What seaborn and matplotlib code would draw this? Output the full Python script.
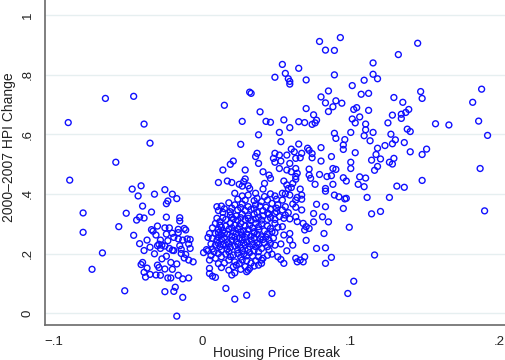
import pandas as pd
import seaborn as sns
import matplotlib.pyplot as plt

# (housing price break, 2000-2007 HPI change)

# negative-break cluster on the left
left_pts = [
    (-0.065, 0.720), (-0.046, 0.727), (-0.090, 0.639), (-0.039, 0.634),
    (-0.089, 0.446), (-0.058, 0.506), (-0.035, 0.570), (-0.080, 0.336),
    (-0.051, 0.335), (-0.047, 0.416), (-0.041, 0.427), (-0.043, 0.393),
    (-0.040, 0.359), (-0.042, 0.322), (-0.044, 0.312), (-0.039, 0.319),
    (-0.034, 0.339), (-0.032, 0.399), (-0.025, 0.414), (-0.024, 0.367),
    (-0.023, 0.376), (-0.020, 0.399), (-0.017, 0.384), (-0.024, 0.322),
    (-0.015, 0.320), (-0.015, 0.309),
    (-0.080, 0.271), (-0.067, 0.202), (-0.074, 0.147), (-0.052, 0.075),
    (-0.056, 0.290), (-0.046, 0.261), (-0.042, 0.233), (-0.037, 0.245),
    (-0.039, 0.210), (-0.041, 0.163), (-0.040, 0.170), (-0.037, 0.151),
    (-0.039, 0.137), (-0.038, 0.121), (-0.035, 0.130), (-0.035, 0.221),
    (-0.034, 0.280), (-0.033, 0.275), (-0.031, 0.262), (-0.030, 0.292),
    (-0.028, 0.245), (-0.029, 0.231), (-0.027, 0.228), (-0.030, 0.226),
    (-0.028, 0.217), (-0.032, 0.199), (-0.027, 0.182), (-0.030, 0.161),
    (-0.029, 0.153), (-0.031, 0.128), (-0.028, 0.127), (-0.025, 0.286),
    (-0.022, 0.286), (-0.024, 0.265), (-0.020, 0.268), (-0.023, 0.243),
    (-0.025, 0.225), (-0.022, 0.217), (-0.020, 0.211), (-0.019, 0.254),
    (-0.016, 0.281), (-0.016, 0.270), (-0.012, 0.284), (-0.011, 0.279),
    (-0.016, 0.249), (-0.013, 0.245), (-0.010, 0.249), (-0.008, 0.247),
    (-0.009, 0.232), (-0.008, 0.217), (-0.019, 0.210), (-0.015, 0.226),
    (-0.014, 0.214), (-0.014, 0.200), (-0.011, 0.197), (-0.012, 0.185),
    (-0.009, 0.178), (-0.006, 0.172), (-0.024, 0.191), (-0.025, 0.148),
    (-0.021, 0.170), (-0.017, 0.165), (-0.020, 0.147), (-0.023, 0.118),
    (-0.021, 0.118), (-0.016, 0.127), (-0.013, 0.115), (-0.009, 0.118),
    (-0.018, 0.087), (-0.025, 0.072), (-0.019, 0.073), (-0.013, 0.053),
    (-0.017, -0.010),
]

# dense core just right of zero
core_pts = [
    (0.022, 0.402), (0.027, 0.393), (0.031, 0.396), (0.036, 0.402), (0.037, 0.385),
    (0.042, 0.391), (0.046, 0.400), (0.049, 0.393), (0.054, 0.402), (0.056, 0.400),
    (0.059, 0.396), (0.064, 0.388), (0.067, 0.396), (0.024, 0.382), (0.029, 0.379),
    (0.035, 0.377), (0.040, 0.374), (0.044, 0.379), (0.050, 0.382), (0.054, 0.379),
    (0.063, 0.379), (0.067, 0.382),
    (0.010, 0.357), (0.013, 0.359), (0.018, 0.370), (0.011, 0.344), (0.022, 0.363),
    (0.027, 0.366), (0.031, 0.357), (0.036, 0.363), (0.039, 0.359), (0.047, 0.368),
    (0.051, 0.363), (0.056, 0.357), (0.061, 0.366), (0.063, 0.355), (0.067, 0.346),
    (0.024, 0.346), (0.029, 0.344), (0.033, 0.348), (0.041, 0.344), (0.046, 0.348),
    (0.054, 0.346), (0.058, 0.337),
    (0.019, 0.329), (0.020, 0.321), (0.023, 0.326), (0.027, 0.332), (0.031, 0.326),
    (0.035, 0.332), (0.038, 0.321), (0.041, 0.326), (0.045, 0.332), (0.049, 0.335),
    (0.056, 0.329), (0.040, 0.312), (0.044, 0.314), (0.049, 0.314), (0.055, 0.318),
    (0.063, 0.323), (0.064, 0.307), (0.016, 0.314), (0.012, 0.307), (0.024, 0.312),
    (0.029, 0.314), (0.033, 0.310),
    (0.009, 0.301), (0.012, 0.295), (0.016, 0.292), (0.019, 0.301), (0.022, 0.295),
    (0.026, 0.301), (0.029, 0.292), (0.032, 0.295), (0.036, 0.301), (0.040, 0.299),
    (0.044, 0.292), (0.049, 0.301), (0.011, 0.281), (0.014, 0.276), (0.018, 0.281),
    (0.021, 0.273), (0.024, 0.281), (0.028, 0.276), (0.031, 0.281), (0.035, 0.273),
    (0.038, 0.279), (0.042, 0.276), (0.047, 0.273), (0.051, 0.288), (0.009, 0.267),
    (0.013, 0.262), (0.017, 0.265), (0.020, 0.258), (0.023, 0.267), (0.027, 0.262),
    (0.030, 0.265), (0.033, 0.258), (0.037, 0.265), (0.040, 0.256), (0.005, 0.267),
    (0.059, 0.267), (0.068, 0.301), (0.069, 0.279),
    (0.007, 0.251), (0.010, 0.245), (0.013, 0.247), (0.017, 0.239), (0.020, 0.245),
    (0.023, 0.239), (0.027, 0.247), (0.030, 0.239), (0.033, 0.245), (0.037, 0.236),
    (0.041, 0.247), (0.045, 0.245), (0.046, 0.234), (0.059, 0.245), (0.061, 0.228),
    (0.009, 0.228), (0.012, 0.223), (0.016, 0.228), (0.019, 0.220), (0.022, 0.225),
    (0.026, 0.220), (0.029, 0.228), (0.032, 0.223), (0.036, 0.223), (0.040, 0.217),
    (0.044, 0.223), (0.049, 0.228),
    (0.001, 0.203), (0.004, 0.209), (0.008, 0.206), (0.011, 0.200), (0.016, 0.198),
    (0.018, 0.206), (0.021, 0.195), (0.024, 0.200), (0.028, 0.198), (0.032, 0.203),
    (0.034, 0.191), (0.038, 0.189), (0.041, 0.184), (0.047, 0.198), (0.051, 0.189),
    (0.057, 0.209), (0.063, 0.184), (0.066, 0.178), (0.069, 0.189), (0.005, 0.178),
    (0.009, 0.184), (0.013, 0.189), (0.018, 0.178), (0.022, 0.172), (0.027, 0.178),
    (0.030, 0.176), (0.036, 0.176), (0.040, 0.178), (0.053, 0.180), (0.055, 0.167),
    (0.064, 0.172), (0.068, 0.172),
    (0.005, 0.150), (0.005, 0.133), (0.007, 0.124), (0.009, 0.120), (0.013, 0.153),
    (0.018, 0.144), (0.021, 0.156), (0.023, 0.161), (0.026, 0.147), (0.029, 0.156),
    (0.030, 0.139), (0.032, 0.150), (0.035, 0.158), (0.038, 0.161), (0.040, 0.167),
    (0.020, 0.128), (0.031, 0.144), (0.022, 0.135),
]

# points hidden inside the solid part of the core
core_fill_pts = [
    (0.015, 0.350), (0.020, 0.352), (0.026, 0.354), (0.035, 0.350), (0.043, 0.355),
    (0.050, 0.352), (0.014, 0.338), (0.019, 0.340), (0.037, 0.338), (0.044, 0.336),
    (0.050, 0.340), (0.010, 0.318), (0.014, 0.320), (0.021, 0.316), (0.026, 0.320),
    (0.031, 0.318), (0.036, 0.316), (0.046, 0.320), (0.052, 0.324), (0.059, 0.316),
    (0.007, 0.286), (0.013, 0.288), (0.020, 0.286), (0.025, 0.290), (0.034, 0.286),
    (0.038, 0.290), (0.046, 0.284), (0.054, 0.290), (0.011, 0.270), (0.015, 0.268),
    (0.026, 0.272), (0.035, 0.268), (0.044, 0.266), (0.049, 0.270), (0.055, 0.262),
    (0.004, 0.254), (0.011, 0.256), (0.015, 0.253), (0.022, 0.255), (0.025, 0.252),
    (0.029, 0.254), (0.035, 0.252), (0.039, 0.249), (0.043, 0.255), (0.048, 0.252),
    (0.006, 0.232), (0.011, 0.234), (0.014, 0.231), (0.018, 0.233), (0.024, 0.231),
    (0.028, 0.235), (0.034, 0.232), (0.038, 0.230), (0.042, 0.236), (0.053, 0.232),
    (0.003, 0.213), (0.007, 0.215), (0.013, 0.212), (0.017, 0.214), (0.024, 0.212),
    (0.027, 0.210), (0.031, 0.214), (0.035, 0.210), (0.038, 0.206), (0.045, 0.212),
    (0.006, 0.193), (0.019, 0.190), (0.026, 0.188), (0.030, 0.192), (0.044, 0.194),
    (0.011, 0.166), (0.015, 0.168), (0.025, 0.166), (0.033, 0.168),
]

# sparse points below / right of the core
low_pts = [
    (0.016, 0.083), (0.022, 0.047), (0.030, 0.060), (0.047, 0.066), (0.098, 0.066),
    (0.102, 0.107), (0.116, 0.195), (0.099, 0.288), (0.070, 0.290), (0.072, 0.284),
    (0.082, 0.267), (0.070, 0.244), (0.077, 0.217), (0.083, 0.219), (0.087, 0.187),
    (0.083, 0.167),
]

# upper cloud (positive breaks, large HPI change)
upper_pts = [
    (0.079, 0.911), (0.093, 0.924), (0.083, 0.882), (0.089, 0.881), (0.054, 0.834),
    (0.065, 0.821), (0.056, 0.804), (0.049, 0.791), (0.089, 0.799), (0.058, 0.786),
    (0.059, 0.777), (0.059, 0.768), (0.070, 0.782), (0.032, 0.741), (0.033, 0.737),
    (0.085, 0.745), (0.080, 0.725), (0.083, 0.705), (0.090, 0.712), (0.094, 0.704),
    (0.088, 0.692), (0.015, 0.697), (0.039, 0.675), (0.070, 0.686), (0.085, 0.676),
    (0.075, 0.665), (0.027, 0.643), (0.043, 0.643), (0.046, 0.640), (0.055, 0.648),
    (0.065, 0.642), (0.069, 0.639), (0.077, 0.647), (0.076, 0.638), (0.074, 0.633),
    (0.145, 0.905), (0.132, 0.867), (0.115, 0.839), (0.115, 0.801), (0.118, 0.786),
    (0.109, 0.781), (0.101, 0.763), (0.107, 0.734), (0.112, 0.737), (0.147, 0.743),
    (0.188, 0.751), (0.129, 0.723), (0.148, 0.720), (0.135, 0.707), (0.182, 0.707),
    (0.102, 0.683), (0.104, 0.689), (0.112, 0.680), (0.139, 0.683), (0.137, 0.673),
    (0.134, 0.667), (0.134, 0.653), (0.128, 0.664), (0.106, 0.658), (0.101, 0.651),
    (0.186, 0.644), (0.125, 0.638), (0.157, 0.635), (0.166, 0.631), (0.110, 0.634),
    (0.103, 0.638),
    (0.110, 0.615), (0.115, 0.606), (0.109, 0.595), (0.100, 0.606), (0.127, 0.600),
    (0.138, 0.617), (0.140, 0.609), (0.192, 0.596), (0.113, 0.578), (0.130, 0.581),
    (0.128, 0.568), (0.136, 0.572), (0.123, 0.562), (0.118, 0.553), (0.151, 0.550),
    (0.140, 0.541), (0.148, 0.532), (0.103, 0.538), (0.117, 0.532), (0.114, 0.513),
    (0.120, 0.517), (0.129, 0.519), (0.126, 0.506), (0.128, 0.500), (0.100, 0.506),
    (0.118, 0.492), (0.116, 0.479), (0.100, 0.485), (0.187, 0.485), (0.106, 0.457),
    (0.110, 0.453), (0.148, 0.445), (0.105, 0.432), (0.109, 0.424), (0.131, 0.426),
    (0.136, 0.422), (0.111, 0.388), (0.126, 0.388), (0.114, 0.333), (0.120, 0.341),
    (0.190, 0.343),
    (0.052, 0.606), (0.059, 0.622), (0.038, 0.598), (0.053, 0.575), (0.026, 0.566),
    (0.065, 0.567), (0.060, 0.550), (0.062, 0.541), (0.071, 0.553), (0.072, 0.546),
    (0.080, 0.555), (0.089, 0.603), (0.090, 0.586), (0.096, 0.582), (0.095, 0.564),
    (0.095, 0.549), (0.037, 0.536), (0.036, 0.525), (0.038, 0.502), (0.049, 0.536),
    (0.048, 0.519), (0.052, 0.530), (0.057, 0.530), (0.063, 0.519), (0.066, 0.521),
    (0.067, 0.536), (0.074, 0.535), (0.074, 0.521), (0.080, 0.510), (0.087, 0.525),
    (0.021, 0.510), (0.019, 0.499), (0.014, 0.480), (0.029, 0.480), (0.041, 0.474),
    (0.049, 0.506), (0.053, 0.510), (0.059, 0.502), (0.052, 0.485), (0.057, 0.480),
    (0.060, 0.474), (0.063, 0.485), (0.064, 0.469), (0.063, 0.458), (0.063, 0.449),
    (0.072, 0.483), (0.072, 0.463), (0.073, 0.452), (0.079, 0.465), (0.084, 0.458),
    (0.087, 0.461), (0.088, 0.485), (0.090, 0.482), (0.095, 0.454), (0.097, 0.443),
    (0.011, 0.438), (0.017, 0.443), (0.020, 0.438), (0.025, 0.432), (0.027, 0.426),
    (0.029, 0.450), (0.028, 0.441), (0.031, 0.427), (0.032, 0.418), (0.042, 0.435),
    (0.045, 0.463), (0.046, 0.452), (0.041, 0.416), (0.055, 0.443), (0.057, 0.430),
    (0.058, 0.418), (0.061, 0.435), (0.060, 0.421), (0.066, 0.416), (0.076, 0.432),
    (0.088, 0.432), (0.083, 0.418), (0.089, 0.396), (0.092, 0.390), (0.083, 0.409),
    (0.077, 0.365), (0.083, 0.357), (0.096, 0.383), (0.097, 0.385), (0.095, 0.351),
    (0.075, 0.334), (0.081, 0.323), (0.085, 0.306), (0.075, 0.306),
]

xticks = [-0.1, 0, 0.1, 0.2]
xtick_labels = ["\u2212.1", "0", ".1", ".2"]
yticks = [0, 0.2, 0.4, 0.6, 0.8, 1.0]
ytick_labels = ["0", ".2", ".4", ".6", ".8", "1"]

pts = left_pts + core_pts + core_fill_pts + low_pts + upper_pts
df = pd.DataFrame(pts, columns=["break", "hpi"])

sns.set_style("white")
plt.rcParams["font.family"] = ["Liberation Sans", "DejaVu Sans"]

fig = plt.figure(figsize=(5.06, 3.6), dpi=100)
ax = fig.add_axes([0.089, 0.097, 0.911, 0.903])

sns.scatterplot(
    data=df,
    x="break",
    y="hpi",
    ax=ax,
    marker="o",
    s=18,
    facecolors="none",
    edgecolor="#1010ff",
    linewidth=1.0,
)

ax.set_xlim(-0.1056, 0.2044)
ax.set_ylim(-0.040, 1.050)

ax.set_xticks(xticks)
ax.set_xticklabels(xtick_labels)
ax.set_yticks(yticks)
ax.set_yticklabels(ytick_labels, rotation=90, va="center")

ax.yaxis.grid(True, color="#e6eff0", linewidth=1)
ax.set_axisbelow(True)

for side in ["top", "right"]:
    ax.spines[side].set_visible(False)
for side in ["left", "bottom"]:
    ax.spines[side].set_color("#6a6a6a")
    ax.spines[side].set_linewidth(1.2)

ax.tick_params(direction="out", length=5, width=1, color="#6a6a6a",
               labelsize=9.5, labelcolor="#222222", pad=3)

ax.set_xlabel("Housing Price Break", fontsize=10, color="#222222")
ax.set_ylabel("2000\u20132007 HPI Change", fontsize=10, color="#222222")
ax.xaxis.label.set_va("center")
ax.xaxis.set_label_coords(0.502, -0.085)
ax.yaxis.set_label_coords(-0.062, 0.548)

fig.savefig("out.png", dpi=100)
